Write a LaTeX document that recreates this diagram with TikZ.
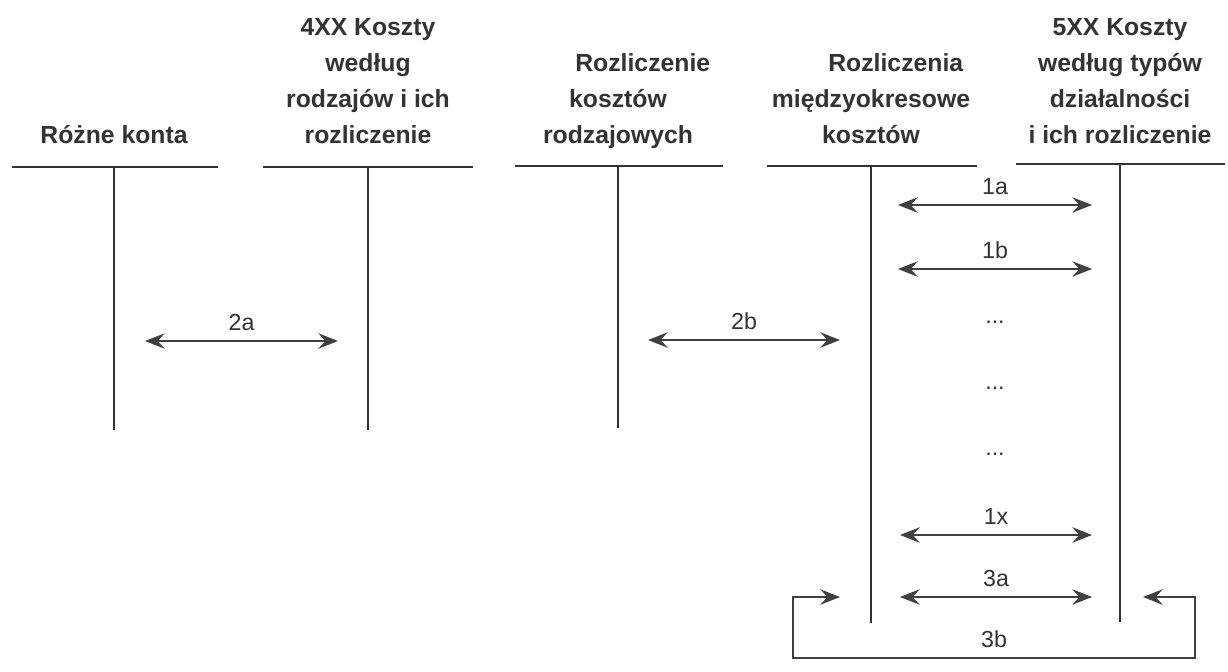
\documentclass[tikz,border=0pt]{standalone}
\usepackage{fontspec}
\setmainfont{Liberation Sans}
\usetikzlibrary{arrows.meta}

\begin{document}
\begin{tikzpicture}[
  x=0.025cm, y=-0.025cm,
  head/.style={font=\fontsize{17.6}{25.6}\selectfont\bfseries, text=black!80, align=center, anchor=south, inner sep=0pt, text depth=0pt},
  tacc/.style={line width=1.2pt, draw=black!80},
  arrow/.style={{Stealth[length=14pt, width=11pt, inset=5pt]}-{Stealth[length=14pt, width=11pt, inset=5pt]}, line width=1.1pt, draw=black!75},
  lab/.style={font=\fontsize{16.5}{18}\selectfont, text=black!80, inner sep=0pt},
]
\useasboundingbox[fill=white] (0,0) rectangle (1228,671);

% === ACCOUNT HEADERS ===
\node[head] (hRozne) at (114,144) {Różne konta};
\node[head] (h4xx) at (368,144) {4XX Koszty\\według\\rodzajów i ich\\rozliczenie};
\node[head] (hRozlRodz) at (618,144) {\hspace*{2em}Rozliczenie\\kosztów\\rodzajowych};
\node[head] (hRozlMiedz) at (871,144) {\hspace*{2em}Rozliczenia\\międzyokresowe\\kosztów};
\node[head] (h5xx) at (1120,144) {5XX Koszty\\według typów\\działalności\\i ich rozliczenie};

% === T-ACCOUNTS ===
\draw[tacc] (12,167) -- (218,167);
\draw[tacc] (114,167) -- (114,430);
\draw[tacc] (263,167) -- (473,167);
\draw[tacc] (368,167) -- (368,430);
\draw[tacc] (515,166) -- (723,166);
\draw[tacc] (618,166) -- (618,428);
\draw[tacc] (767,166) -- (977,166);
\draw[tacc] (871,166) -- (871,623);
\draw[tacc] (1016,164) -- (1225,164);
\draw[tacc] (1120,164) -- (1120,622);

% === ARROW ENDS ===
\coordinate (a2aL) at (145,341);
\coordinate (a2aR) at (338,341);
\coordinate (a2bL) at (648,340);
\coordinate (a2bR) at (840,340);
\coordinate (a1aL) at (898,205);
\coordinate (a1aR) at (1092,205);
\coordinate (a1bL) at (898,269);
\coordinate (a1bR) at (1092,269);
\coordinate (a1xL) at (900,535);
\coordinate (a1xR) at (1092,535);
\coordinate (a3aL) at (900,597);
\coordinate (a3aR) at (1092,597);
\coordinate (b3R) at (1143,597);
\coordinate (b3L) at (840,597);
\coordinate (k3R) at (1195,658);
\coordinate (k3L) at (793,658);

% === POSTINGS ===
\draw[arrow] (a2aL) -- node[lab, above=7pt] {2a} (a2aR);
\draw[arrow] (a2bL) -- node[lab, above=7pt] {2b} (a2bR);
\draw[arrow] (a1aL) -- node[lab, above=7pt] {1a} (a1aR);
\draw[arrow] (a1bL) -- node[lab, above=7pt] {1b} (a1bR);
\node[lab] (dots1) at (995,322) {...};
\node[lab] (dots2) at (995,388) {...};
\node[lab] (dots3) at (995,454) {...};
\draw[arrow] (a1xL) -- node[lab, above=7pt] {1x} (a1xR);
\draw[arrow] (a3aL) -- node[lab, above=7pt] {3a} (a3aR);
\draw[arrow] (b3R) -| (k3R) -- node[lab, above=7pt] {3b} (k3L) |- (b3L);
\end{tikzpicture}
\end{document}
